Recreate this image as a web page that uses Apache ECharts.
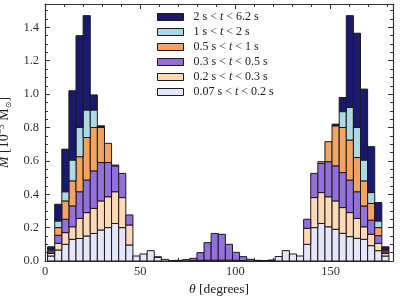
<!DOCTYPE html>
<html><head><meta charset="utf-8">
<script src="https://cdn.jsdelivr.net/npm/echarts@6/dist/echarts.min.js"></script>
<style>html,body{margin:0;padding:0;background:#fff}#c{width:407px;height:300px}</style>
</head><body><div id="c"></div>
<script>
// theta bin edges (degrees), 48 bins
const binEdges = [1.35,5.09,8.82,12.56,16.29,20.03,23.77,27.50,31.24,34.97,38.71,42.45,46.18,49.92,53.65,57.39,61.13,64.86,68.60,72.33,76.07,79.81,83.54,87.28,91.01,94.75,98.49,102.22,105.96,109.69,113.43,117.17,120.90,124.64,128.37,132.11,135.85,139.58,143.32,147.05,150.79,154.53,158.26,162.00,165.73,169.47,173.21,176.94,180.68];

// mass per bin [1e-3 Msun], stacked bottom -> top
const t007_02 = [0.03,0.066,0.10,0.13,0.135,0.15,0.165,0.186,0.20,0.225,0.20,0.096,0.03,0.042,0.062,0.022,0.01,0.003,0.002,0,0,0,0,0,0,0,0,0,0,0.002,0.003,0.003,0.027,0.062,0.042,0.03,0.10,0.20,0.225,0.205,0.19,0.166,0.146,0.136,0.13,0.092,0.062,0.03];
const t02_03 = [0.015,0.04,0.07,0.075,0.12,0.14,0.15,0.174,0.185,0.19,0.18,0.12,0,0,0,0.003,0,0,0.002,0,0.002,0.004,0.005,0.005,0.005,0.005,0.004,0.003,0,0,0,0.003,0,0,0,0,0.096,0.18,0.185,0.18,0.17,0.154,0.144,0.119,0.075,0.068,0.044,0.015];
const t03_05 = [0.01,0.048,0.08,0.125,0.16,0.195,0.225,0.23,0.205,0.155,0.145,0.06,0,0,0,0,0,0,0,0.008,0.014,0.046,0.105,0.16,0.155,0.095,0.048,0.023,0.01,0.002,0,0,0,0,0,0,0.054,0.145,0.175,0.21,0.21,0.21,0.195,0.16,0.125,0.085,0.046,0.01];
const t05_1 = [0.01,0.046,0.11,0.15,0.21,0.255,0.26,0.21,0.115,0.005,0,0,0,0,0,0,0,0,0,0,0,0,0,0,0,0,0,0,0,0,0,0,0,0,0,0,0,0,0.01,0.12,0.24,0.27,0.24,0.205,0.15,0.10,0.048,0.01];
const t1_2 = [0.005,0.04,0.055,0.125,0.175,0.165,0.105,0.005,0,0,0,0,0,0,0,0,0,0,0,0,0,0,0,0,0,0,0,0,0,0,0,0,0,0,0,0,0,0,0,0,0.004,0.095,0.195,0.18,0.125,0.065,0.04,0.005];
const t2_62 = [0.015,0.10,0.255,0.415,0.55,0.565,0.09,0.005,0,0,0,0,0,0,0,0,0,0,0,0,0,0,0,0,0,0,0,0,0,0,0,0,0,0,0,0,0,0,0,0,0.006,0.085,0.55,0.565,0.425,0.275,0.11,0.015];

const layerNames = ['0.07s<t<0.2s','0.2s<t<0.3s','0.3s<t<0.5s','0.5s<t<1s','1s<t<2s','2s<t<6.2s'];
const layerLabels = [
  '{r|0.07 s < }{i|t}{r| < 0.2 s}',
  '{r|0.2 s < }{i|t}{r| < 0.3 s}',
  '{r|0.3 s < }{i|t}{r| < 0.5 s}',
  '{r|0.5 s < }{i|t}{r| < 1 s}',
  '{r|1 s < }{i|t}{r| < 2 s}',
  '{r|2 s < }{i|t}{r| < 6.2 s}'
];
const layerValues = [t007_02, t02_03, t03_05, t05_1, t1_2, t2_62];
const layerColors = ['#e6e6fa','#ffdab9','#9370db','#f4a460','#add8e6','#191970'];

const xTickLabels = [0, 50, 100, 150];
const yTickLabels = [0, 0.2, 0.4, 0.6, 0.8, 1.0, 1.2, 1.4];

const EDGE = '#1a1a1a';
const SERIF = 'Liberation Serif';

// build stacked rectangles
const cum = new Array(binEdges.length - 1).fill(0);
const series = layerValues.map((vals, k) => {
  const data = [];
  vals.forEach((v, i) => {
    if (v > 0) data.push([binEdges[i], binEdges[i + 1], cum[i], cum[i] + v]);
    cum[i] += v;
  });
  const color = layerColors[k];
  return {
    name: layerNames[k],
    type: 'custom',
    xAxisIndex: 0, yAxisIndex: 0,
    itemStyle: { color: color, borderColor: EDGE, borderWidth: 1 },
    encode: { x: [0, 1], y: [2, 3] },
    data: data,
    renderItem: function (params, api) {
      const p0 = api.coord([api.value(0), api.value(3)]);
      const p1 = api.coord([api.value(1), api.value(2)]);
      return {
        type: 'rect',
        shape: { x: p0[0], y: p0[1], width: p1[0] - p0[0], height: p1[1] - p0[1] },
        style: { fill: color, stroke: EDGE, lineWidth: 1 }
      };
    }
  };
});

const axisCol = '#333';
const baseX = {
  type: 'value', min: 0, max: 182.8, interval: 50,
  axisLine: { show: true, onZero: false, lineStyle: { color: axisCol, width: 1.2 } },
  axisTick: { show: true, inside: true, length: 5, lineStyle: { color: axisCol } },
  minorTick: { show: true, splitNumber: 5, length: 3, lineStyle: { color: axisCol } },
  splitLine: { show: false }, minorSplitLine: { show: false }
};
const baseY = {
  type: 'value', min: 0, max: 1.54, interval: 0.2,
  axisLine: { show: true, onZero: false, lineStyle: { color: axisCol, width: 1.2 } },
  axisTick: { show: true, inside: true, length: 5, lineStyle: { color: axisCol } },
  minorTick: { show: true, splitNumber: 4, length: 3, lineStyle: { color: axisCol } },
  splitLine: { show: false }, minorSplitLine: { show: false }
};

const chart = echarts.init(document.getElementById('c'), null, { renderer: 'canvas' });
chart.setOption({
  animation: false,
  backgroundColor: '#fff',
  grid: { left: 45, right: 14, top: 4, bottom: 39, containLabel: false, outerBoundsMode: 'none' },
  legend: {
    orient: 'vertical', left: 157, top: 11, padding: 0,
    itemWidth: 26, itemHeight: 7, itemGap: 3,
    icon: 'rect',
    data: layerNames.slice().reverse().map((n) => {
      const k = layerNames.indexOf(n);
      return { name: n, icon: 'rect', itemStyle: { color: layerColors[k], borderColor: EDGE, borderWidth: 1 } };
    }),
    formatter: (n) => '{p|}' + layerLabels[layerNames.indexOf(n)],
    textStyle: {
      fontFamily: SERIF, fontSize: 12, color: '#222',
      rich: {
        p: { width: 5 },
        r: { fontFamily: SERIF, fontSize: 12, color: '#222', lineHeight: 12 },
        i: { fontFamily: SERIF, fontSize: 12, color: '#222', fontStyle: 'italic', lineHeight: 12 }
      }
    }
  },
  xAxis: [
    Object.assign({}, baseX, {
      position: 'bottom',
      axisLabel: {
        show: true, margin: 4, showMaxLabel: false,
        fontFamily: SERIF, fontSize: 12.5, color: '#333',
        formatter: (v) => (xTickLabels.indexOf(v) >= 0 ? String(v) : '')
      },
      name: '{i|θ}{r| [degrees]}', nameLocation: 'middle', nameGap: 20,
      nameTextStyle: {
        rich: {
          i: { fontFamily: SERIF, fontSize: 13.5, fontStyle: 'italic', color: '#222' },
          r: { fontFamily: SERIF, fontSize: 13.5, color: '#222' }
        }
      }
    }),
    Object.assign({}, baseX, { position: 'top', axisLabel: { show: false } })
  ],
  yAxis: [
    Object.assign({}, baseY, {
      position: 'left',
      axisLabel: {
        show: true, margin: 6, showMaxLabel: false,
        fontFamily: SERIF, fontSize: 12.5, color: '#333',
        formatter: (v) => {
          const r = Math.round(v * 10) / 10;
          return yTickLabels.some((t) => Math.abs(t - r) < 1e-9) ? r.toFixed(1) : '';
        }
      },
      name: '{i|M}{r| [10}{s|−3}{r| M}{b|⊙}{r|]}', nameLocation: 'middle', nameGap: 28, nameRotate: 90,
      nameTextStyle: {
        rich: {
          i: { fontFamily: SERIF, fontSize: 14, fontStyle: 'italic', color: '#222', lineHeight: 16 },
          r: { fontFamily: SERIF, fontSize: 14, color: '#222', lineHeight: 16 },
          s: { fontFamily: SERIF, fontSize: 9.5, color: '#222', verticalAlign: 'top', lineHeight: 16 },
          b: { fontFamily: 'DejaVu Sans', fontSize: 8, color: '#222', verticalAlign: 'bottom', lineHeight: 16 }
        }
      }
    }),
    Object.assign({}, baseY, { position: 'right', axisLabel: { show: false } })
  ],
  series: series
});
</script>
</body></html>
